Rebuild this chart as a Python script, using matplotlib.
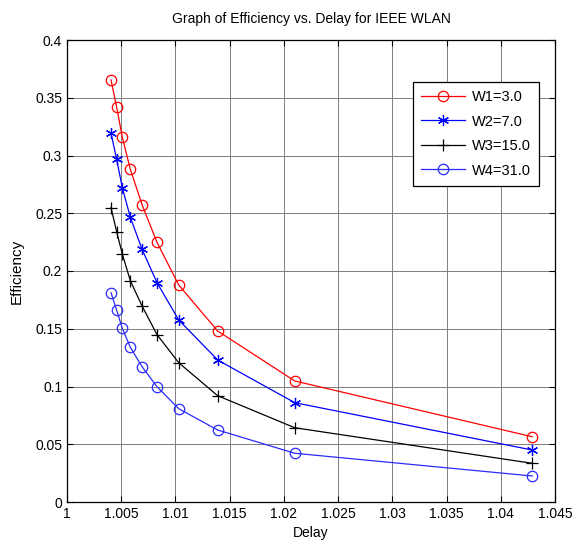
import matplotlib
matplotlib.use("Agg")
import matplotlib.pyplot as plt

plt.rcParams['font.family'] = ['Liberation Sans', 'DejaVu Sans']

delay = [1.00406, 1.00458, 1.0051, 1.00584, 1.00692, 1.0083, 1.0103, 1.0139, 1.0210, 1.0429]
w1 = [0.3654, 0.3417, 0.3158, 0.2881, 0.2574, 0.2248, 0.1879, 0.1480, 0.1048, 0.0565]
w2 = [0.3192, 0.2967, 0.2721, 0.2465, 0.2188, 0.1899, 0.1576, 0.1229, 0.0860, 0.0450]
w3 = [0.2548, 0.2340, 0.2147, 0.1916, 0.1697, 0.1449, 0.1206, 0.0920, 0.0643, 0.0335]
w4 = [0.1812, 0.1660, 0.1504, 0.1339, 0.1172, 0.0998, 0.0808, 0.0623, 0.0422, 0.0225]
labels = ['W1=3.0', 'W2=7.0', 'W3=15.0', 'W4=31.0']

xticks = [1, 1.005, 1.01, 1.015, 1.02, 1.025, 1.03, 1.035, 1.04, 1.045]
xticklabels = ['1', '1.005', '1.01', '1.015', '1.02', '1.025', '1.03', '1.035', '1.04', '1.045']
yticks = [0, 0.05, 0.1, 0.15, 0.2, 0.25, 0.3, 0.35, 0.4]
yticklabels = ['0', '0.05', '0.1', '0.15', '0.2', '0.25', '0.3', '0.35', '0.4']

fig = plt.figure(figsize=(5.79, 5.47), dpi=100)
ax = fig.add_axes([67/579, 45/547, 488/579, 462/547])

ax.plot(delay, w1, color='#ff0000', lw=0.9, marker='o', ms=7.5, mfc='none', mew=0.9, label=labels[0])
ax.plot(delay, w2, color='#0000ff', lw=0.9, marker=(6, 2, 0), ms=8, mew=0.9, label=labels[1])
ax.plot(delay, w3, color='#000000', lw=0.9, marker='+', ms=9, mew=0.9, label=labels[2])
ax.plot(delay, w4, color='#2a2aff', lw=0.9, marker='o', ms=7.5, mfc='none', mew=0.9, label=labels[3])

ax.set_xlim(1, 1.045)
ax.set_ylim(0, 0.4)
ax.set_xticks(xticks)
ax.set_xticklabels(xticklabels)
ax.set_yticks(yticks)
ax.set_yticklabels(yticklabels)
ax.tick_params(direction='in', top=True, right=True, labelsize=10, length=4, width=0.8)
ax.grid(True, color='#7f7f7f', lw=0.7, ls='-')
for s in ax.spines.values():
    s.set_linewidth(0.9)

ax.set_title('Graph of Efficiency vs. Delay for IEEE WLAN', fontsize=10, pad=12)
ax.set_xlabel('Delay', fontsize=10, labelpad=4)
ax.set_ylabel('Efficiency', fontsize=11, labelpad=8)

leg = ax.legend(loc='upper right', bbox_to_anchor=(0.967, 0.909), fontsize=10.5,
                frameon=True, fancybox=False, edgecolor='black', framealpha=1,
                handlelength=3.0, borderpad=0.55, labelspacing=0.72, handletextpad=0.5,
                borderaxespad=0)
leg.get_frame().set_linewidth(0.9)

fig.savefig('out.png', dpi=100)
